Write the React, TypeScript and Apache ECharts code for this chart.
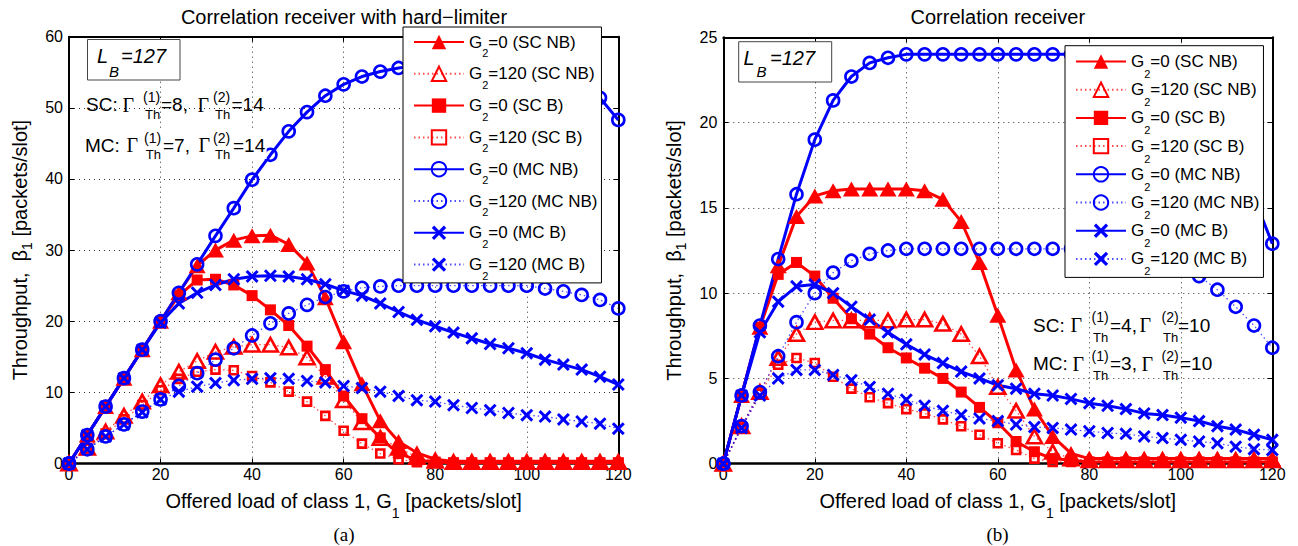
import React, { useEffect, useRef } from 'react';
import * as echarts from 'echarts';

// Offered load of class 1, G1 [packets/slot]
const G1 = [0, 4, 8, 12, 16, 20, 24, 28, 32, 36, 40, 44, 48, 52, 56, 60, 64, 68, 72, 76, 80, 84, 88, 92, 96, 100, 104, 108, 112, 116, 120];

const SERIES_NAMES = [
  'G2=0 (SC NB)', 'G2=120 (SC NB)', 'G2=0 (SC B)', 'G2=120 (SC B)',
  'G2=0 (MC NB)', 'G2=120 (MC NB)', 'G2=0 (MC B)', 'G2=120 (MC B)',
];

// (a) Correlation receiver with hard-limiter
const HL_SCNB_0 = [0, 4, 8, 12, 16, 20, 24, 27.8, 30.0, 31.4, 32.0, 32.1, 30.8, 28.2, 23.3, 17.1, 11.2, 6.0, 3.1, 1.5, 0.6, 0.3, 0.3, 0.3, 0.3, 0.3, 0.3, 0.3, 0.3, 0.3, 0.3];
const HL_SCNB_120 = [0, 2.2, 4.5, 6.7, 8.7, 11.0, 12.9, 14.4, 15.7, 16.4, 16.7, 16.7, 16.3, 14.9, 12.2, 8.9, 5.8, 3.6, 2.2, 0.9, 0.4, 0.2, 0.2, 0.2, 0.2, 0.2, 0.2, 0.2, 0.2, 0.2, 0.2];
const HL_SCB_0 = [0, 4, 8, 12, 16, 20, 23.6, 25.8, 25.9, 25.1, 23.6, 21.6, 19.4, 16.5, 13.2, 9.5, 6.3, 3.6, 1.4, 0.5, 0.2, 0.1, 0.1, 0.1, 0.1, 0.1, 0.1, 0.1, 0.1, 0.1, 0.1];
const HL_SCB_120 = [0, 2.1, 4.2, 6.2, 8.2, 10.3, 11.9, 12.9, 13.2, 13.1, 12.3, 11.4, 10.1, 8.7, 6.7, 4.6, 2.8, 1.4, 0.6, 0.2, 0.1, 0.1, 0.1, 0.1, 0.1, 0.1, 0.1, 0.1, 0.1, 0.1, 0.1];
const HL_MCNB_0 = [0, 4, 8, 12, 16, 20, 24, 28, 32, 35.9, 39.9, 43.4, 46.7, 49.4, 51.7, 53.3, 54.4, 55.1, 55.6, 55.9, 56.0, 56.0, 55.8, 55.5, 55.1, 54.6, 54.0, 53.3, 52.6, 51.4, 48.3];
const HL_MCNB_120 = [0, 2.0, 3.8, 5.5, 7.3, 9.0, 10.9, 12.7, 14.6, 16.2, 18.0, 19.7, 21.1, 22.3, 23.4, 24.2, 24.7, 24.9, 25.0, 25.0, 25.0, 25.0, 25.0, 25.0, 25.0, 25.0, 24.6, 24.2, 23.7, 23.0, 21.8];
const HL_MCB_0 = [0, 4, 8, 12, 16, 19.8, 22.5, 24.0, 25.1, 25.9, 26.3, 26.4, 26.3, 25.9, 25.2, 24.3, 23.6, 22.5, 21.3, 20.2, 19.3, 18.4, 17.6, 16.8, 16.2, 15.5, 14.6, 13.9, 13.2, 12.2, 11.1];
const HL_MCB_120 = [0, 2.0, 3.8, 5.5, 7.2, 9.0, 10.1, 10.8, 11.3, 11.7, 11.9, 12.0, 11.9, 11.6, 11.4, 10.9, 10.6, 10.1, 9.5, 8.9, 8.7, 8.2, 7.8, 7.5, 7.1, 6.8, 6.6, 6.2, 5.9, 5.6, 4.9];

// (b) Correlation receiver
const CR_SCNB_0 = [0, 4, 8, 11.6, 14.5, 15.7, 16.0, 16.1, 16.1, 16.1, 16.1, 16.0, 15.5, 14.2, 11.8, 8.7, 5.5, 3.2, 1.6, 0.6, 0.3, 0.3, 0.3, 0.3, 0.3, 0.3, 0.3, 0.3, 0.3, 0.3, 0.3];
const CR_SCNB_120 = [0, 2.2, 4.2, 6.2, 7.6, 8.3, 8.4, 8.4, 8.4, 8.4, 8.45, 8.45, 8.2, 7.6, 6.3, 4.5, 3.1, 1.6, 0.7, 0.3, 0.2, 0.2, 0.2, 0.2, 0.2, 0.2, 0.2, 0.2, 0.2, 0.2, 0.2];
const CR_SCB_0 = [0, 4, 8, 11.1, 11.8, 11.0, 9.7, 8.5, 7.6, 6.8, 6.2, 5.6, 5.0, 4.2, 3.3, 2.4, 1.3, 0.7, 0.3, 0.2, 0.1, 0.1, 0.1, 0.1, 0.1, 0.1, 0.1, 0.1, 0.1, 0.1, 0.1];
const CR_SCB_120 = [0, 2.1, 4.1, 5.8, 6.2, 5.9, 5.1, 4.4, 3.9, 3.55, 3.2, 2.95, 2.6, 2.2, 1.7, 1.2, 0.8, 0.3, 0.1, 0.1, 0.1, 0.1, 0.1, 0.1, 0.1, 0.1, 0.1, 0.1, 0.1, 0.1, 0.1];
const CR_MCNB_0 = [0, 4.0, 8.1, 12.0, 15.8, 19.0, 21.3, 22.7, 23.5, 23.8, 24.0, 24.0, 24.0, 24.0, 24.0, 24.0, 24.0, 24.0, 24.0, 24.0, 24.0, 24.0, 24.0, 24.0, 24.0, 23.8, 23.2, 21.8, 19.4, 15.6, 12.9];
const CR_MCNB_120 = [0, 2.2, 4.2, 6.3, 8.3, 10.0, 11.2, 11.9, 12.3, 12.5, 12.6, 12.6, 12.6, 12.6, 12.6, 12.6, 12.6, 12.6, 12.6, 12.6, 12.6, 12.6, 12.6, 12.5, 12.3, 11.8, 11.0, 10.2, 9.2, 8.1, 6.8];
const CR_MCB_0 = [0, 4, 7.7, 9.5, 10.4, 10.5, 10.0, 9.2, 8.45, 7.7, 7.0, 6.4, 5.9, 5.4, 5.0, 4.6, 4.4, 4.1, 4.0, 3.8, 3.55, 3.4, 3.2, 2.95, 2.85, 2.7, 2.5, 2.2, 2.0, 1.7, 1.4];
const CR_MCB_120 = [0, 2.1, 4.0, 5.0, 5.5, 5.5, 5.2, 4.9, 4.5, 4.1, 3.75, 3.4, 3.1, 2.85, 2.65, 2.5, 2.3, 2.15, 2.1, 2.0, 1.9, 1.8, 1.75, 1.6, 1.5, 1.4, 1.3, 1.2, 1.0, 0.85, 0.8];

const HL_VALUES = [HL_SCNB_0, HL_SCNB_120, HL_SCB_0, HL_SCB_120, HL_MCNB_0, HL_MCNB_120, HL_MCB_0, HL_MCB_120];
const CR_VALUES = [CR_SCNB_0, CR_SCNB_120, CR_SCB_0, CR_SCB_120, CR_MCNB_0, CR_MCNB_120, CR_MCB_0, CR_MCB_120];

const TITLES = ['Correlation receiver with hard\u2212limiter', 'Correlation receiver'];
const PANEL_LABELS = ['(a)', '(b)'];

const FONT = '"Liberation Sans", Arial, Helvetica, sans-serif';
const SERIF = '"Liberation Serif", "Times New Roman", serif';
const RED = '#ff0000';
const BLUE = '#0000ff';
const XMARK = 'path://M0,1.6L1.6,0L5,3.4L8.4,0L10,1.6L6.6,5L10,8.4L8.4,10L5,6.6L1.6,10L0,8.4L3.4,5Z';

const STYLES = [
  { color: RED, solid: true, symbol: 'triangle', size: [17, 15], filled: true },
  { color: RED, solid: false, symbol: 'triangle', size: [15, 13.5], filled: false },
  { color: RED, solid: true, symbol: 'rect', size: 11, filled: true },
  { color: RED, solid: false, symbol: 'rect', size: 8, filled: false },
  { color: BLUE, solid: true, symbol: 'circle', size: 12, filled: false },
  { color: BLUE, solid: false, symbol: 'circle', size: 12, filled: false },
  { color: BLUE, solid: true, symbol: XMARK, size: 13, filled: true },
  { color: BLUE, solid: false, symbol: XMARK, size: 13, filled: true },
];

function makeSeries(values: number[][], axisIndex: number) {
  return values.map((vals, k) => {
    const st = STYLES[k];
    return {
      type: 'line',
      name: SERIES_NAMES[k],
      xAxisIndex: axisIndex,
      yAxisIndex: axisIndex,
      data: G1.map((x, i) => [x, vals[i]]),
      symbol: st.symbol,
      symbolSize: st.size,
      showSymbol: true,
      showAllSymbol: true,
      clip: false,
      silent: true,
      z: 2,
      lineStyle: st.solid
        ? { color: st.color, width: 3, type: 'solid' }
        : { color: st.color, width: 1.3, type: [1.5, 3], opacity: 0.7 },
      itemStyle: st.filled
        ? { color: st.color, borderWidth: 0 }
        : { color: 'rgba(255,255,255,0)', borderColor: st.color, borderWidth: 2.6 },
      emphasis: { disabled: true },
    };
  });
}

function axes(gridIndex: number, yMax: number, yInterval: number) {
  const xName = '{m|Offered load of class 1, G}{s|1}{m| [packets/slot]}';
  const yName = '{m|Throughput,  \u03b2}{s|1}{m| [packets/slot]}';
  const x = [
    {
      type: 'value', gridIndex, min: 0, max: 120, interval: 20, position: 'bottom',
      axisLine: { show: true, onZero: false, lineStyle: { color: '#000', width: 2.5 } },
      axisTick: { show: true, inside: true, length: 5, lineStyle: { color: '#000', width: 1 } },
      axisLabel: { show: true, color: '#000', fontSize: 16, fontFamily: FONT, margin: 3 },
      splitLine: { show: true, lineStyle: { color: '#333', width: 1, type: [1, 4] } },
      name: xName, nameLocation: 'middle', nameGap: 18.3,
      nameTextStyle: {
        color: '#000', fontSize: 20, fontFamily: FONT,
        rich: {
          m: { color: '#000', fontSize: 20, fontFamily: FONT, lineHeight: 38, verticalAlign: 'middle' },
          s: { color: '#000', fontSize: 14, fontFamily: FONT, lineHeight: 12, verticalAlign: 'bottom' },
        },
      },
    },
    {
      type: 'value', gridIndex, min: 0, max: 120, interval: 20, position: 'top',
      axisLine: { show: true, onZero: false, lineStyle: { color: '#000', width: 2 } },
      axisTick: { show: true, inside: true, length: 5, lineStyle: { color: '#000', width: 1 } },
      axisLabel: { show: false }, splitLine: { show: false },
    },
  ];
  const y = [
    {
      type: 'value', gridIndex, min: 0, max: yMax, interval: yInterval, position: 'left',
      axisLine: { show: true, onZero: false, lineStyle: { color: '#000', width: 2 } },
      axisTick: { show: true, inside: true, length: 5, lineStyle: { color: '#000', width: 1 } },
      axisLabel: { show: true, color: '#000', fontSize: 16, fontFamily: FONT, margin: 6 },
      splitLine: { show: true, lineStyle: { color: '#333', width: 1, type: [1, 4] } },
      name: yName, nameLocation: 'middle', nameGap: 35.5, nameRotate: 90,
      nameTextStyle: {
        color: '#000', fontSize: 20, fontFamily: FONT,
        rich: {
          m: { color: '#000', fontSize: 20, fontFamily: FONT, lineHeight: 28, verticalAlign: 'middle' },
          s: { color: '#000', fontSize: 14, fontFamily: FONT, lineHeight: 12, verticalAlign: 'bottom' },
        },
      },
    },
    {
      type: 'value', gridIndex, min: 0, max: yMax, interval: yInterval, position: 'right',
      axisLine: { show: true, onZero: false, lineStyle: { color: '#000', width: 2 } },
      axisTick: { show: true, inside: true, length: 5, lineStyle: { color: '#000', width: 1 } },
      axisLabel: { show: false }, splitLine: { show: false },
    },
  ];
  return { x, y };
}

function legendFor(left: number, top: number, rowL: number, gap: number, padding: number[]) {
  return {
    data: SERIES_NAMES,
    orient: 'vertical',
    left, top,
    itemWidth: 50, itemHeight: 18, itemGap: gap,
    padding,
    backgroundColor: '#fff', borderColor: '#000', borderWidth: 1,
    selectedMode: false,
    formatter: (name: string) => `{m|G}{s|2}{m|${name.slice(2)}}`,
    textStyle: {
      color: '#000', fontSize: 17, fontFamily: FONT,
      rich: {
        m: { color: '#000', fontSize: 17, fontFamily: FONT, lineHeight: rowL, verticalAlign: 'middle' },
        s: { color: '#000', fontSize: 11, fontFamily: FONT, lineHeight: 11, verticalAlign: 'bottom' },
      },
    },
    z: 6,
  };
}

function txt(x: number, y: number, text: string, font: string, align = 'left') {
  return { type: 'text', x, y, z: 10, silent: true, style: { text, font, fill: '#000', align, verticalAlign: 'middle' } };
}

function formula(y: number, supDy: number, subDy: number, parts: any[]) {
  const out: any[] = [];
  for (const [kind, t, x] of parts) {
    if (kind === 'n') out.push(txt(x, y, t, `19px ${FONT}`));
    else if (kind === 'G') out.push(txt(x, y, t, `20px ${SERIF}`));
    else if (kind === 'p') out.push(txt(x, y + supDy, t, `14px ${FONT}`));
    else out.push(txt(x, y + subDy, t, `13px ${FONT}`));
  }
  return out;
}

export default function App() {
  const ref = useRef<HTMLDivElement>(null);
  useEffect(() => {
    if (!ref.current) return;
    const chart = echarts.init(ref.current, null, { renderer: 'svg', width: 1298, height: 546 });
    const a = axes(0, 60, 10);
    const b = axes(1, 25, 5);
    const G = '\u0393';
    const graphic: any[] = [
      txt(344, 17, TITLES[0], `20px ${FONT}`, 'center'),
      txt(997.8, 17, TITLES[1], `20px ${FONT}`, 'center'),
      txt(344, 534, PANEL_LABELS[0], `19px ${SERIF}`, 'center'),
      txt(997.5, 534, PANEL_LABELS[1], `19px ${SERIF}`, 'center'),
      { type: 'rect', z: 9, silent: true, shape: { x: 87.5, y: 39.5, width: 92.5, height: 40.5 }, style: { fill: '#fff', stroke: '#444', lineWidth: 1 } },
      txt(97, 56, 'L', `italic 20px ${FONT}`),
      txt(109, 71, 'B', `italic 15px ${FONT}`),
      txt(121, 56, '=127', `italic 20px ${FONT}`),
      { type: 'rect', z: 9, silent: true, shape: { x: 738.7, y: 41.7, width: 93, height: 40.3 }, style: { fill: '#fff', stroke: '#444', lineWidth: 1 } },
      txt(743.5, 57.5, 'L', `italic 20px ${FONT}`),
      txt(756.5, 71, 'B', `italic 15px ${FONT}`),
      txt(770, 57.5, '=127', `italic 20px ${FONT}`),
      { type: 'rect', z: 9, silent: true, shape: { x: 84, y: 130, width: 182.7, height: 29 }, style: { fill: '#fff' } },
      ...formula(104.5, -8, 9.5, [['n', 'SC:', 86], ['G', G, 122.5], ['p', '(1)', 143], ['b', 'Th', 145], ['n', '=8,', 161], ['G', G, 197.5], ['p', '(2)', 213], ['b', 'Th', 215], ['n', '=14', 231.5]]),
      ...formula(145, -7.5, 9.5, [['n', 'MC:', 85], ['G', G, 126.5], ['p', '(1)', 144], ['b', 'Th', 145.7], ['n', '=7,', 163], ['G', G, 198.5], ['p', '(2)', 213], ['b', 'Th', 215], ['n', '=14', 233]]),
      ...formula(325, -8, 12, [['n', 'SC:', 1033], ['G', G, 1070.5], ['p', '(1)', 1091.5], ['b', 'Th', 1093], ['n', '=4,', 1110], ['G', G, 1139.5], ['p', '(2)', 1161.5], ['b', 'Th', 1163], ['n', '=10', 1178]]),
      ...formula(363.5, -7.5, 11.5, [['n', 'MC:', 1033], ['G', G, 1072.5], ['p', '(1)', 1091.5], ['b', 'Th', 1093], ['n', '=3,', 1110], ['G', G, 1141.5], ['p', '(2)', 1161.5], ['b', 'Th', 1163], ['n', '=10', 1180]]),
    ];
    chart.setOption({
      animation: false,
      backgroundColor: '#fff',
      textStyle: { fontFamily: FONT },
      grid: [
        { left: 69, top: 36.7, width: 549.3, height: 426.8, containLabel: false },
        { left: 723.3, top: 37.3, width: 549, height: 426.4, containLabel: false },
      ],
      xAxis: [...a.x, ...b.x],
      yAxis: [...a.y, ...b.y],
      legend: [
        legendFor(403, 27, 33, 6.8, [6.5, 4, 1.8, 10]),
        legendFor(1065, 45.7, 36, 1.7, [7.3, 4, 0.5, 10]),
      ],
      series: [...makeSeries(HL_VALUES, 0), ...makeSeries(CR_VALUES, 2)],
      graphic,
    });
    return () => chart.dispose();
  }, []);
  return <div ref={ref} style={{ position: 'fixed', left: 0, top: 0, width: 1298, height: 546, background: '#fff' }} />;
}
